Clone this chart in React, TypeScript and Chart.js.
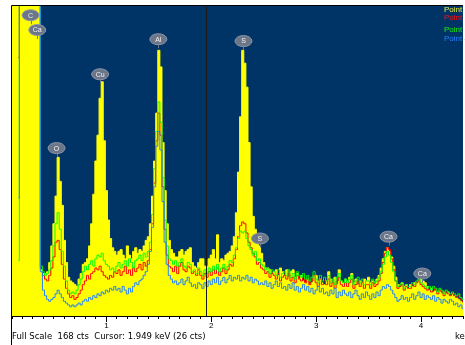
import React, { useEffect, useRef } from 'react';
import { Chart, registerables } from 'chart.js';

Chart.register(...registerables);

// ---- Data (counts per 0.02 keV channel, starting at 0.10 keV) ----
const START_KEV = 0.10;
const STEP_KEV = 0.02;
const FULL_SCALE = 168;
const MIN_KEV = 0.10;
const MAX_KEV = 4.40;
const cursorKeV = 1.949;
const cursorCounts = 26;

const seriesNames = ['Point 1', 'Point 2', 'Point 3', 'Point 4'];
const seriesColors = ['#FFFF00', '#FF0000', '#00FF00', '#1E82FF'];
const legendColors = ['#E8F040', '#FF1010', '#10F010', '#2080FF'];

const point1 = [
  200, 200, 200, 200, 200, 200, 200, 200, 200, 200,
  200, 200, 200, 200, 25, 23, 23, 24, 29, 38,
  50, 65, 86, 73, 60, 41, 29, 21, 19, 18,
  17, 16, 20, 23, 28, 29, 31, 38, 50, 66,
  84, 98, 118, 127, 95, 68, 52, 42, 37, 35,
  33, 35, 36, 33, 31, 38, 33, 31, 35, 37,
  34, 36, 35, 38, 41, 43, 50, 65, 84, 110,
  144, 135, 94, 68, 50, 41, 36, 34, 32, 32,
  35, 36, 33, 35, 36, 37, 29, 27, 26, 29,
  31, 31, 27, 27, 31, 33, 36, 31, 44, 29,
  31, 30, 33, 34, 35, 38, 43, 56, 78, 108,
  144, 137, 124, 94, 70, 54, 47, 42, 38, 34,
  29, 26, 26, 25, 23, 24, 25, 22, 26, 24,
  22, 25, 21, 24, 25, 21, 23, 20, 22, 19,
  18, 20, 17, 18, 22, 22, 19, 20, 18, 17,
  19, 24, 20, 18, 21, 17, 25, 19, 18, 20,
  19, 21, 23, 18, 20, 17, 19, 18, 20, 19,
  21, 18, 19, 17, 20, 22, 26, 31, 35, 37,
  35, 32, 27, 21, 17, 16, 18, 16, 17, 15,
  17, 16, 18, 18, 19, 20, 19, 18, 16, 14,
  15, 13, 14, 13, 14, 12, 13, 12, 13, 11,
  12, 11, 10, 9, 8, 7,
];

const point2 = [
  null, null, null, 140, 200, 200, 200, 200, 200, 200,
  200, 200, 200, 200, 26, 22, 20, 19, 22, 26,
  32, 40, 41, 36, 28, 20, 15, 12, 10, 11,
  9, 10, 12, 14, 17, 19, 22, 20, 23, 24,
  26, 25, 27, 24, 22, 21, 20, 22, 21, 24,
  23, 25, 22, 24, 27, 23, 25, 22, 26, 24,
  26, 28, 25, 29, 27, 30, 36, 50, 72, 95,
  110, 98, 70, 47, 33, 27, 26, 24, 27, 23,
  27, 29, 25, 24, 27, 26, 23, 24, 22, 25,
  22, 20, 23, 21, 24, 22, 25, 23, 26, 22,
  24, 26, 23, 25, 28, 27, 31, 36, 43, 49,
  51, 50, 45, 40, 37, 34, 32, 28, 29, 26,
  25, 23, 24, 21, 23, 22, 20, 23, 19, 21,
  22, 20, 23, 19, 21, 18, 22, 20, 19, 21,
  18, 20, 17, 19, 22, 18, 16, 20, 17, 19,
  17, 20, 16, 18, 15, 19, 21, 17, 16, 18,
  16, 18, 20, 15, 17, 19, 16, 18, 15, 17,
  17, 15, 18, 16, 17, 19, 23, 29, 34, 37,
  36, 31, 25, 19, 15, 16, 17, 14, 16, 15,
  15, 17, 16, 18, 19, 17, 16, 15, 14, 15,
  13, 15, 14, 12, 14, 13, 11, 13, 12, 11,
  12, 11, 10, 11, 9, 8,
];

const point3 = [
  null, null, null, 30, 200, 200, 200, 200, 200, 200,
  200, 200, 200, 200, 27, 24, 22, 23, 25, 30,
  38, 50, 56, 47, 35, 27, 19, 14, 12, 13,
  12, 14, 17, 20, 24, 27, 25, 28, 30, 27,
  31, 33, 32, 34, 30, 28, 27, 25, 26, 24,
  27, 29, 26, 28, 30, 27, 31, 29, 26, 30,
  31, 33, 30, 34, 32, 35, 40, 55, 80, 100,
  116, 105, 75, 52, 38, 31, 30, 28, 30, 27,
  29, 31, 27, 26, 29, 28, 24, 25, 23, 26,
  24, 22, 25, 23, 26, 24, 27, 25, 28, 24,
  26, 28, 25, 27, 30, 29, 33, 37, 42, 46,
  45, 46, 42, 38, 36, 33, 35, 30, 31, 28,
  27, 25, 26, 23, 25, 24, 22, 25, 21, 23,
  24, 22, 25, 21, 23, 20, 24, 22, 21, 23,
  20, 22, 19, 21, 24, 20, 18, 22, 19, 21,
  19, 22, 18, 20, 17, 21, 23, 19, 18, 20,
  18, 20, 22, 17, 19, 21, 18, 20, 17, 19,
  19, 17, 20, 18, 19, 21, 24, 28, 32, 35,
  33, 29, 24, 19, 16, 17, 18, 15, 17, 16,
  16, 18, 17, 19, 20, 18, 17, 16, 15, 16,
  14, 16, 15, 13, 15, 14, 12, 14, 13, 12,
  13, 12, 11, 12, 10, 9,
];

const point4 = [
  null, null, null, 64, 200, 200, 200, 200, 200, 200,
  200, 200, 200, 200, 24, 14, 11, 9, 8, 9,
  10, 12, 14, 12, 10, 8, 7, 6, 5, 6,
  5, 6, 7, 6, 8, 9, 8, 10, 9, 11,
  10, 12, 11, 13, 12, 14, 13, 15, 14, 16,
  14, 15, 13, 16, 14, 12, 15, 13, 16, 18,
  17, 19, 20, 22, 24, 28, 35, 48, 70, 92,
  100, 90, 62, 40, 28, 22, 20, 18, 19, 17,
  18, 20, 17, 19, 21, 18, 16, 17, 15, 18,
  17, 15, 18, 16, 19, 17, 20, 18, 21, 17,
  19, 21, 18, 20, 22, 19, 21, 20, 22, 19,
  21, 20, 22, 19, 21, 18, 20, 19, 17, 18,
  17, 19, 16, 18, 15, 17, 19, 16, 18, 15,
  16, 14, 17, 15, 18, 14, 16, 13, 15, 17,
  14, 16, 13, 15, 12, 14, 16, 13, 15, 12,
  13, 11, 14, 12, 15, 10, 13, 11, 14, 12,
  11, 13, 10, 12, 14, 11, 9, 12, 10, 13,
  11, 9, 12, 10, 13, 11, 14, 16, 15, 17,
  16, 14, 12, 10, 8, 9, 11, 9, 10, 8,
  10, 12, 9, 11, 13, 10, 12, 9, 11, 10,
  9, 11, 8, 10, 9, 7, 9, 8, 7, 9,
  8, 6, 7, 5, 6, 4,
];

// Peak markers: element, energy (keV), marker height (counts)
const peakNames = ['C', 'Ca', 'O', 'Cu', 'Al', 'S', 'S', 'Ca', 'Ca'];
const peakKeV = [0.277, 0.341, 0.525, 0.94, 1.495, 2.307, 2.464, 3.69, 4.012];
const peakLabelCounts = [163, 155, 91, 131, 150, 149, 42, 43, 23];

const FONT = '"Liberation Sans", Arial, sans-serif';
const STATUS_FONT = '"DejaVu Sans", Verdana, sans-serif';

export default function App() {
  const canvasRef = useRef<HTMLCanvasElement | null>(null);

  useEffect(() => {
    const canvas = canvasRef.current;
    if (!canvas) return;
    const energies = point1.map((_, i) => +(START_KEV + i * STEP_KEV).toFixed(2));
    const toXY = (arr: (number | null)[]) => arr.map((v, i) => ({ x: energies[i], y: v }));
    const allSeries = [point1, point2, point3, point4];

    const datasets = allSeries.map((arr, k) => ({
      label: seriesNames[k],
      data: toXY(arr),
      stepped: 'middle' as const,
      borderColor: seriesColors[k],
      backgroundColor: seriesColors[k],
      borderWidth: 1,
      pointRadius: 0,
      fill: k === 0 ? 'origin' : false,
      order: 4 - k,
      spanGaps: false,
    }));

    const bgPlugin = {
      id: 'bg',
      beforeDatasetsDraw(chart: any) {
        const { ctx, chartArea: a } = chart;
        ctx.save();
        ctx.fillStyle = '#003366';
        ctx.fillRect(a.left, a.top, a.right - a.left, a.bottom - a.top);
        ctx.restore();
      },
    };

    const overlayPlugin = {
      id: 'overlay',
      afterDatasetsDraw(chart: any) {
        const { ctx, chartArea: a } = chart;
        const xs = chart.scales.x;
        const ys = chart.scales.y;
        ctx.save();
        // cursor line
        const cx = Math.round(xs.getPixelForValue(cursorKeV)) + 0.5;
        ctx.strokeStyle = '#1a1a1a';
        ctx.lineWidth = 1;
        ctx.beginPath();
        ctx.moveTo(cx, a.top);
        ctx.lineTo(cx, a.bottom);
        ctx.stroke();

        // peak labels
        peakNames.forEach((name, i) => {
          const px = xs.getPixelForValue(peakKeV[i]);
          const py = ys.getPixelForValue(peakLabelCounts[i]);
          ctx.strokeStyle = '#6c7689';
          ctx.lineWidth = 1;
          ctx.beginPath();
          ctx.moveTo(Math.round(px) + 0.5, py + 5);
          ctx.lineTo(Math.round(px) + 0.5, py + 9);
          ctx.stroke();
          ctx.beginPath();
          ctx.ellipse(px, py, 8.5, 5.5, 0, 0, Math.PI * 2);
          ctx.fillStyle = '#6c7689';
          ctx.fill();
          ctx.strokeStyle = '#8e97a8';
          ctx.stroke();
          ctx.fillStyle = '#f2f2f2';
          ctx.font = `7px ${FONT}`;
          ctx.textAlign = 'center';
          ctx.textBaseline = 'middle';
          ctx.fillText(name, px, py + 0.5);
        });

        // legend
        const legendY = [10, 18, 30, 39];
        ctx.font = `8px ${FONT}`;
        ctx.textAlign = 'left';
        ctx.textBaseline = 'middle';
        chart.data.datasets.forEach((ds: any, i: number) => {
          ctx.fillStyle = legendColors[i];
          ctx.fillText(ds.label, 444, legendY[i]);
        });
        ctx.restore();
      },
      afterDraw(chart: any) {
        const { ctx, chartArea: a } = chart;
        const xs = chart.scales.x;
        ctx.save();
        // frame
        ctx.strokeStyle = '#000';
        ctx.lineWidth = 1;
        ctx.beginPath();
        ctx.moveTo(a.left - 0.5, 345);
        ctx.lineTo(a.left - 0.5, a.top - 0.5);
        ctx.lineTo(a.right, a.top - 0.5);
        ctx.stroke();
        // longer major ticks
        [1, 2, 3, 4].forEach((k) => {
          const px = Math.round(xs.getPixelForValue(k)) + 0.5;
          ctx.beginPath();
          ctx.moveTo(px, a.bottom);
          ctx.lineTo(px, a.bottom + 6);
          ctx.stroke();
        });
        // status text
        ctx.fillStyle = '#000';
        ctx.font = `8.5px ${STATUS_FONT}`;
        ctx.textAlign = 'left';
        ctx.textBaseline = 'alphabetic';
        ctx.fillText(
          `Full Scale  ${FULL_SCALE} cts  Cursor: ${cursorKeV.toFixed(3)} keV (${cursorCounts} cts)`,
          12,
          339
        );
        ctx.fillText('keV', 455, 339);
        ctx.restore();
      },
    };

    const chart = new Chart(canvas, {
      type: 'line',
      data: { datasets: datasets as any },
      options: {
        animation: false,
        responsive: true,
        maintainAspectRatio: false,
        events: [],
        layout: { padding: { left: 12, top: 6, right: 0, bottom: 12.4 } },
        plugins: { legend: { display: false }, tooltip: { enabled: false } },
        scales: {
          x: {
            type: 'linear',
            min: MIN_KEV,
            max: MAX_KEV,
            ticks: {
              stepSize: 0.1,
              autoSkip: false,
              maxRotation: 0,
              padding: 2,
              color: '#000',
              font: { family: FONT, size: 8 },
              callback: (v: any) => {
                const n = Number(v);
                return Math.abs(n - Math.round(n)) < 1e-6 && n > 0.5 ? String(Math.round(n)) : '';
              },
            },
            grid: { drawOnChartArea: false, drawTicks: true, tickLength: 3, tickColor: '#000' },
            border: { display: true, color: '#000' },
          },
          y: { display: false, min: 0, max: FULL_SCALE },
        },
      },
      plugins: [bgPlugin, overlayPlugin],
    });
    return () => chart.destroy();
  }, []);

  return (
    <div style={{ position: 'absolute', left: 0, top: 0, width: 465, height: 345, background: '#fff' }}>
      <canvas ref={canvasRef} />
    </div>
  );
}
